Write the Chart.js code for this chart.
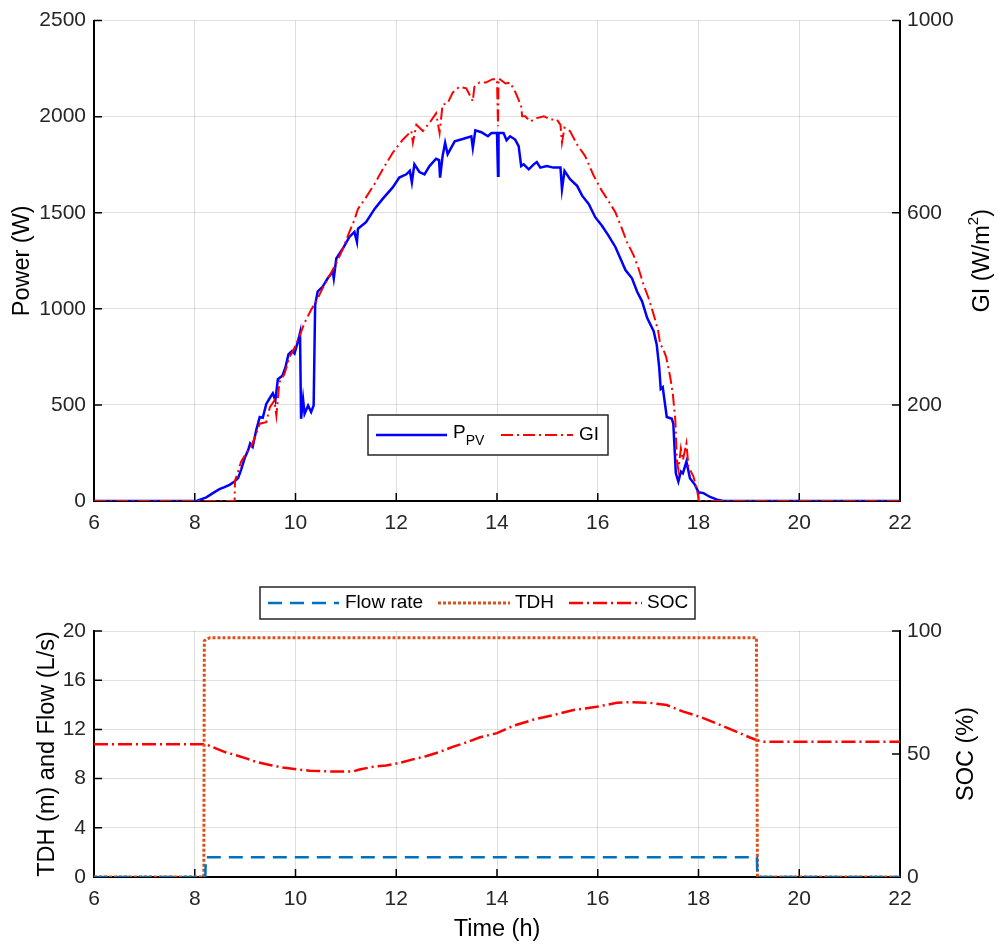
<!DOCTYPE html>
<html>
<head>
<meta charset="utf-8">
<script src="https://cdn.jsdelivr.net/npm/chart.js@4.4.1/dist/chart.umd.min.js"></script>
<style>
  html, body { margin: 0; padding: 0; background: #fff; }
  canvas { position: absolute; left: 0; }
  #top-chart { top: 0; }
  #bottom-chart { top: 545px; }
</style>
</head>
<body>
<canvas id="top-chart" width="998" height="545"></canvas>
<canvas id="bottom-chart" width="998" height="400"></canvas>
<script>
// ---- data ----
const xTicks = { min: 6, max: 22, step: 2 };

const pvHours = [6, 8.0, 8.05, 8.23, 8.36, 8.49, 8.59, 8.69, 8.79, 8.86, 8.92, 8.99, 9.06, 9.10, 9.15, 9.22, 9.29, 9.35, 9.42, 9.49, 9.55, 9.60, 9.65, 9.74, 9.80, 9.86, 9.93, 9.98, 10.05, 10.09, 10.11, 10.15, 10.18, 10.25, 10.31, 10.36, 10.39, 10.44, 10.54, 10.64, 10.74, 10.76, 10.81, 10.94, 11.07, 11.17, 11.22, 11.24, 11.40, 11.57, 11.73, 11.93, 12.06, 12.20, 12.27, 12.31, 12.36, 12.46, 12.56, 12.66, 12.79, 12.85, 12.87, 12.92, 12.97, 13.02, 13.16, 13.32, 13.49, 13.52, 13.57, 13.69, 13.82, 13.89, 14.0, 14.02, 14.03, 14.13, 14.19, 14.26, 14.36, 14.43, 14.48, 14.53, 14.63, 14.73, 14.79, 14.86, 14.99, 15.12, 15.26, 15.29, 15.34, 15.45, 15.59, 15.69, 15.82, 15.95, 16.08, 16.21, 16.35, 16.45, 16.55, 16.68, 16.78, 16.88, 16.98, 17.11, 17.17, 17.22, 17.25, 17.29, 17.37, 17.47, 17.50, 17.55, 17.60, 17.65, 17.69, 17.76, 17.83, 17.93, 18.0, 18.10, 18.23, 18.37, 18.50, 22];
const pvPower = [0, 0, 2, 19, 41, 62, 72, 84, 101, 119, 162, 222, 265, 299, 282, 368, 437, 433, 505, 536, 560, 523, 634, 652, 695, 763, 781, 767, 832, 875, 428, 531, 454, 497, 463, 497, 1021, 1090, 1116, 1159, 1193, 1159, 1262, 1314, 1374, 1400, 1348, 1417, 1451, 1520, 1572, 1632, 1683, 1700, 1718, 1658, 1752, 1712, 1700, 1743, 1781, 1774, 1683, 1795, 1864, 1805, 1872, 1884, 1898, 1838, 1929, 1919, 1898, 1915, 1915, 1692, 1915, 1915, 1878, 1898, 1881, 1847, 1743, 1752, 1726, 1752, 1764, 1735, 1743, 1735, 1735, 1623, 1718, 1675, 1640, 1589, 1546, 1477, 1434, 1382, 1322, 1262, 1202, 1159, 1090, 1039, 953, 884, 815, 695, 583, 592, 437, 428, 402, 144, 101, 153, 144, 205, 119, 84, 45, 41, 21, 7, 0, 0];

const giHours = [6, 8.79, 8.80, 8.86, 8.92, 9.02, 9.12, 9.22, 9.29, 9.42, 9.49, 9.58, 9.62, 9.68, 9.78, 9.88, 9.98, 10.08, 10.18, 10.31, 10.41, 10.54, 10.68, 10.81, 10.94, 11.07, 11.17, 11.24, 11.40, 11.57, 11.73, 11.93, 12.13, 12.30, 12.33, 12.40, 12.53, 12.66, 12.79, 12.86, 12.92, 13.02, 13.12, 13.25, 13.39, 13.52, 13.55, 13.65, 13.78, 13.91, 14.0, 14.02, 14.03, 14.17, 14.26, 14.36, 14.43, 14.48, 14.50, 14.56, 14.66, 14.79, 14.93, 15.06, 15.19, 15.26, 15.29, 15.34, 15.45, 15.59, 15.75, 15.92, 16.08, 16.21, 16.35, 16.48, 16.58, 16.71, 16.81, 16.91, 17.01, 17.11, 17.20, 17.24, 17.29, 17.36, 17.44, 17.49, 17.54, 17.57, 17.60, 17.65, 17.69, 17.76, 17.80, 17.90, 17.97, 18.01, 22];
const giValues = [0, 0, 43, 61, 82, 99, 113, 140, 161, 164, 195, 209, 178, 247, 264, 299, 319, 343, 371, 398, 415, 443, 470, 495, 525, 560, 585, 608, 632, 660, 690, 725, 752, 770, 746, 783, 770, 787, 807, 766, 825, 828, 850, 862, 859, 832, 862, 871, 871, 878, 878, 780, 880, 869, 871, 852, 835, 821, 801, 801, 790, 797, 801, 794, 794, 783, 746, 777, 770, 742, 718, 677, 646, 625, 601, 567, 539, 512, 484, 450, 422, 388, 354, 326, 319, 299, 257, 223, 168, 85, 65, 109, 85, 120, 72, 51, 23, 0, 0];

const flowHours = [6, 8.21, 8.22, 19.16, 19.17, 22];
const flowValues = [0, 0, 1.6, 1.6, 0, 0];

const tdhHours = [6, 8.18, 8.19, 8.24, 8.3, 19.15, 19.17, 22];
const tdhValues = [0, 0, 19.2, 19.35, 19.45, 19.45, 0, 0];

const socHours = [6, 8.2, 8.30, 8.43, 8.63, 8.76, 9.02, 9.22, 9.49, 9.75, 10.02, 10.28, 10.74, 11.14, 11.27, 11.54, 11.80, 12.07, 12.33, 12.59, 12.86, 13.12, 13.39, 13.65, 14.0, 14.33, 14.73, 15.12, 15.52, 15.98, 16.38, 16.64, 17.04, 17.37, 17.70, 18.03, 18.36, 18.76, 19.02, 19.16, 19.29, 22];
const socValues = [54.0, 54.0, 53.3, 52.2, 50.5, 49.9, 48.2, 46.8, 45.5, 44.5, 43.8, 43.2, 42.9, 42.9, 43.7, 44.8, 45.3, 46.4, 47.8, 49.1, 50.8, 52.9, 54.7, 56.7, 58.5, 61.5, 64.0, 65.8, 67.9, 69.2, 70.8, 71.1, 70.8, 69.9, 67.2, 65.1, 62.4, 59.0, 56.7, 55.6, 55.0, 55.0];

const giTicks = [200, 600, 1000];
const socTicks = [0, 50, 100];

// ---- styling ----
const FAMILY = "'Liberation Sans', Arial, Helvetica, sans-serif";
const GRID = "rgba(38, 38, 38, 0.15)";
Chart.defaults.font.family = FAMILY;
Chart.defaults.font.size = 21;
Chart.defaults.color = "#262626";

const pts = (xs, ys) => xs.map((x, i) => ({ x: x, y: ys[i] }));
const plainNumber = (v) => String(v); // no thousands separator

// MATLAB-like tick marks pointing into the plot
const inwardTicks = {
    id: "inwardTicks",
    beforeDatasetsDraw(chart) {
        const { ctx, chartArea: a } = chart;
        const len = 8;
        ctx.save();
        ctx.strokeStyle = "#000";
        ctx.lineWidth = 1.5;
        ctx.beginPath();
        Object.values(chart.scales).forEach((s) => {
            s.ticks.forEach((t) => {
                const p = s.getPixelForValue(t.value);
                if (s.axis === "x") {
                    ctx.moveTo(p, a.bottom);
                    ctx.lineTo(p, a.bottom - len);
                } else if (s.position === "left") {
                    ctx.moveTo(a.left, p);
                    ctx.lineTo(a.left + len, p);
                } else {
                    ctx.moveTo(a.right, p);
                    ctx.lineTo(a.right - len, p);
                }
            });
        });
        ctx.stroke();
        ctx.restore();
    },
};

// right-hand axis title, read bottom to top like the left one; "^" marks a superscript
const rightTitle = {
    id: "rightTitle",
    afterDraw(chart, args, opts) {
        if (!opts.text) return;
        const { ctx, chartArea: a } = chart;
        const size = 23.5;
        const supSize = 15;
        const parts = opts.text.split(/(\^\S)/).filter((p) => p).map((p) =>
            p[0] === "^" ? { t: p.slice(1), sup: true } : { t: p, sup: false });
        ctx.save();
        ctx.translate(opts.x, (a.top + a.bottom) / 2);
        ctx.rotate(-Math.PI / 2);
        ctx.fillStyle = "#000";
        ctx.textBaseline = "middle";
        ctx.textAlign = "left";
        let total = 0;
        parts.forEach((p) => {
            ctx.font = (p.sup ? supSize : size) + "px " + FAMILY;
            p.w = ctx.measureText(p.t).width;
            total += p.w;
        });
        let x = -total / 2;
        parts.forEach((p) => {
            ctx.font = (p.sup ? supSize : size) + "px " + FAMILY;
            ctx.fillText(p.t, x, p.sup ? -9 : 0);
            x += p.w;
        });
        ctx.restore();
    },
};

// boxed legend, labels with "_" get a subscript
const boxLegend = {
    id: "boxLegend",
    afterDraw(chart, args, opts) {
        if (!opts.box) return;
        const { ctx } = chart;
        const b = opts.box;
        const cy = b.y + b.h / 2;
        ctx.save();
        ctx.fillStyle = "#fff";
        ctx.fillRect(b.x, b.y, b.w, b.h);
        ctx.strokeStyle = "#262626";
        ctx.lineWidth = 1.5;
        ctx.strokeRect(b.x, b.y, b.w, b.h);
        opts.items.forEach((it) => {
            const ds = chart.data.datasets[it.dataset];
            ctx.beginPath();
            ctx.setLineDash(ds.borderDash || []);
            ctx.strokeStyle = ds.borderColor;
            ctx.lineWidth = ds.borderWidth;
            ctx.moveTo(it.x0, cy);
            ctx.lineTo(it.x1, cy);
            ctx.stroke();
            ctx.setLineDash([]);

            const parts = ds.label.split("_");
            ctx.fillStyle = "#000";
            ctx.textBaseline = "middle";
            ctx.textAlign = "left";
            ctx.font = opts.size + "px " + FAMILY;
            ctx.fillText(parts[0], it.tx, cy - (parts[1] ? 2 : 0));
            if (parts[1]) {
                const w = ctx.measureText(parts[0]).width;
                ctx.font = Math.round(opts.size * 0.75) + "px " + FAMILY;
                ctx.fillText(parts[1], it.tx + w, cy + 6);
            }
        });
        ctx.restore();
    },
};

const xScale = (height, title) => ({
    type: "linear",
    min: xTicks.min,
    max: xTicks.max,
    ticks: { stepSize: xTicks.step, padding: 10, maxRotation: 0, callback: plainNumber },
    grid: { color: GRID, drawTicks: false },
    border: { color: "#000", width: 2 },
    title: title
        ? { display: true, text: title, font: { size: 23.5 }, color: "#000", padding: { top: 0, bottom: 1 } }
        : { display: false },
    afterFit(s) { s.height = height; },
});

const leftScale = (max, step, title, pad) => ({
    position: "left",
    min: 0,
    max: max,
    ticks: { stepSize: step, padding: 8, callback: plainNumber },
    grid: { color: GRID, drawTicks: false },
    border: { color: "#000", width: 2 },
    title: { display: true, text: title, font: { size: 23.5 }, color: "#000", padding: { top: pad, bottom: 0 } },
    afterFit(s) { s.width = 94; },
});

const rightScale = (max, tickValues) => ({
    position: "right",
    min: 0,
    max: max,
    afterBuildTicks(s) { s.ticks = tickValues.map((v) => ({ value: v })); },
    ticks: { padding: 7, callback: plainNumber },
    grid: { display: false, drawTicks: false },
    border: { color: "#000", width: 2 },
    afterFit(s) { s.width = 98; },
});

// ---- top chart: PV power and irradiance ----
new Chart(document.getElementById("top-chart"), {
    type: "line",
    data: {
        datasets: [
            {
                label: "P_PV",
                data: pts(pvHours, pvPower),
                yAxisID: "y",
                borderColor: "#0000ff",
                borderWidth: 2.5,
                pointRadius: 0,
                tension: 0,
                order: 1,
            },
            {
                label: "GI",
                data: pts(giHours, giValues),
                yAxisID: "y1",
                borderColor: "#ff0000",
                borderWidth: 2,
                borderDash: [12, 4, 2, 4],
                pointRadius: 0,
                tension: 0,
                order: 0,
            },
        ],
    },
    options: {
        responsive: false,
        animation: false,
        devicePixelRatio: 1,
        layout: { padding: { top: 17, left: 0, right: 0, bottom: 0 } },
        plugins: {
            legend: { display: false },
            tooltip: { enabled: false },
            rightTitle: { text: "GI (W/m^2)", x: 983 },
            boxLegend: {
                box: { x: 368, y: 415, w: 240, h: 40 },
                size: 19,
                items: [
                    { dataset: 0, x0: 376, x1: 447, tx: 453 },
                    { dataset: 1, x0: 501, x1: 573, tx: 579 },
                ],
            },
        },
        scales: {
            x: xScale(44, null),
            y: leftScale(2500, 500, "Power (W)", 8),
            y1: rightScale(1000, giTicks),
        },
    },
    plugins: [inwardTicks, rightTitle, boxLegend],
});

// ---- bottom chart: flow, head and battery state ----
new Chart(document.getElementById("bottom-chart"), {
    type: "line",
    data: {
        datasets: [
            {
                label: "Flow rate",
                data: pts(flowHours, flowValues),
                yAxisID: "y",
                borderColor: "#0072bd",
                borderWidth: 2.5,
                borderDash: [14, 8],
                pointRadius: 0,
                tension: 0,
                order: 0,
            },
            {
                label: "TDH",
                data: pts(tdhHours, tdhValues),
                yAxisID: "y",
                borderColor: "#d95319",
                borderWidth: 3,
                borderDash: [3, 2],
                pointRadius: 0,
                tension: 0,
                order: 1,
            },
            {
                label: "SOC",
                data: pts(socHours, socValues),
                yAxisID: "y1",
                borderColor: "#ff0000",
                borderWidth: 2.5,
                borderDash: [14, 4, 2, 4],
                pointRadius: 0,
                tension: 0,
                order: 2,
            },
        ],
    },
    options: {
        responsive: false,
        animation: false,
        devicePixelRatio: 1,
        layout: { padding: { top: 86, left: 0, right: 0, bottom: 0 } },
        plugins: {
            legend: { display: false },
            tooltip: { enabled: false },
            rightTitle: { text: "SOC (%)", x: 967 },
            boxLegend: {
                box: { x: 260, y: 42, w: 435, h: 32 },
                size: 19,
                items: [
                    { dataset: 0, x0: 268, x1: 339, tx: 345 },
                    { dataset: 1, x0: 438, x1: 510, tx: 515 },
                    { dataset: 2, x0: 569, x1: 642, tx: 647 },
                ],
            },
        },
        scales: {
            x: xScale(68, "Time (h)"),
            y: leftScale(20, 4, "TDH (m) and Flow (L/s)", 33),
            y1: rightScale(100, socTicks),
        },
    },
    plugins: [inwardTicks, rightTitle, boxLegend],
});
</script>
</body>
</html>
